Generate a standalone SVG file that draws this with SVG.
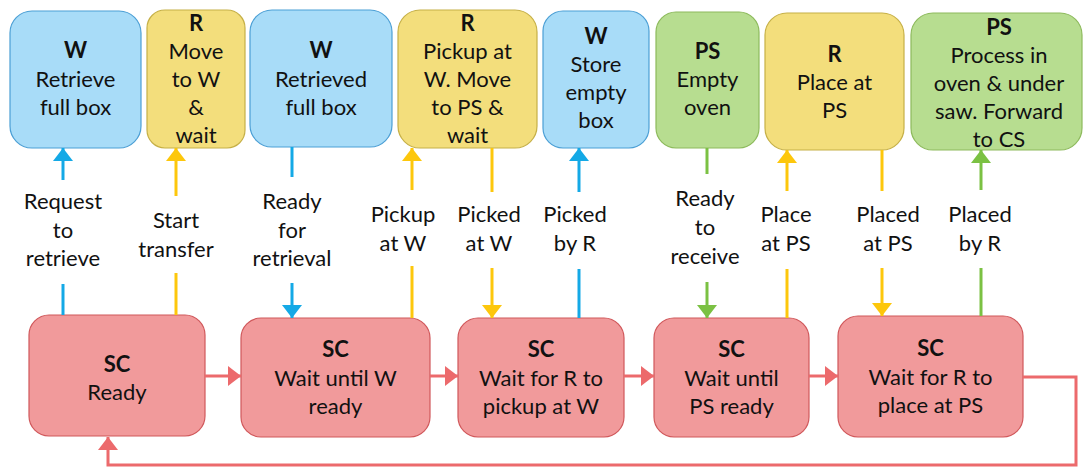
<svg xmlns="http://www.w3.org/2000/svg" width="1084" height="470" viewBox="0 0 1084 470">
  <style>
    text { font-family: Lato, "Liberation Sans", Arial, sans-serif; font-size: 22px; fill: #111; text-anchor: middle; }
    .b { font-weight: bold; }
    .w { fill: #a8dcf8; stroke: #4b9fd5; stroke-width: 1.2; }
    .r { fill: #f3de7c; stroke: #c6b047; stroke-width: 1.2; }
    .ps { fill: #b7dd90; stroke: #8dba5c; stroke-width: 1.2; }
    .sc { fill: #f19a9b; stroke: #d0585b; stroke-width: 1.2; }
    .cb { stroke: #14a9e6; stroke-width: 3; fill: none; }
    .cy { stroke: #fdc70c; stroke-width: 3; fill: none; }
    .cg { stroke: #7bc143; stroke-width: 3; fill: none; }
    .cr { stroke: #ec6a6c; stroke-width: 3; fill: none; }
  </style>
  <defs>
    <marker id="hb" markerUnits="userSpaceOnUse" markerWidth="14" markerHeight="20" refX="13" refY="10" orient="auto"><path d="M0,0 L13,10 L0,20 Z" fill="#14a9e6"/></marker>
    <marker id="hy" markerUnits="userSpaceOnUse" markerWidth="14" markerHeight="20" refX="13" refY="10" orient="auto"><path d="M0,0 L13,10 L0,20 Z" fill="#fdc70c"/></marker>
    <marker id="hg" markerUnits="userSpaceOnUse" markerWidth="14" markerHeight="20" refX="13" refY="10" orient="auto"><path d="M0,0 L13,10 L0,20 Z" fill="#7bc143"/></marker>
    <marker id="hr" markerUnits="userSpaceOnUse" markerWidth="14" markerHeight="20" refX="13" refY="10" orient="auto"><path d="M0,0 L13,10 L0,20 Z" fill="#ec6a6c"/></marker>
  </defs>

  <!-- top row: component actions -->
  <g id="w-retrieve">
    <rect class="w" x="10" y="11" width="131" height="137" rx="22"/>
    <text class="b" x="75.5" y="58">W</text>
    <text x="75.5" y="87">Retrieve</text>
    <text x="75.5" y="115">full box</text>
  </g>
  <g id="r-move">
    <rect class="r" x="147" y="10" width="98" height="138" rx="18"/>
    <text class="b" x="196" y="31">R</text>
    <text x="196" y="59">Move</text>
    <text x="196" y="87">to W</text>
    <text x="196" y="115">&amp;</text>
    <text x="196" y="143">wait</text>
  </g>
  <g id="w-retrieved">
    <rect class="w" x="250" y="10" width="142" height="137" rx="22"/>
    <text class="b" x="321" y="58">W</text>
    <text x="321" y="87">Retrieved</text>
    <text x="321" y="115">full box</text>
  </g>
  <g id="r-pickup">
    <rect class="r" x="398" y="10" width="139" height="138" rx="22"/>
    <text class="b" x="467.5" y="31">R</text>
    <text x="467.5" y="59">Pickup at</text>
    <text x="467.5" y="87">W. Move</text>
    <text x="467.5" y="115">to PS &amp;</text>
    <text x="467.5" y="143">wait</text>
  </g>
  <g id="w-store">
    <rect class="w" x="543" y="11" width="106" height="137" rx="20"/>
    <text class="b" x="596" y="44">W</text>
    <text x="596" y="72">Store</text>
    <text x="596" y="100">empty</text>
    <text x="596" y="128">box</text>
  </g>
  <g id="ps-empty">
    <rect class="ps" x="656" y="12" width="103" height="136" rx="20"/>
    <text class="b" x="707.5" y="59">PS</text>
    <text x="707.5" y="87">Empty</text>
    <text x="707.5" y="115">oven</text>
  </g>
  <g id="r-place">
    <rect class="r" x="765" y="13" width="139" height="137" rx="22"/>
    <text class="b" x="834.5" y="62">R</text>
    <text x="834.5" y="90">Place at</text>
    <text x="834.5" y="118">PS</text>
  </g>
  <g id="ps-process">
    <rect class="ps" x="911" y="13" width="171" height="137" rx="22"/>
    <text class="b" x="999" y="35">PS</text>
    <text x="999" y="63">Process in</text>
    <text x="999" y="91">oven &amp; under</text>
    <text x="999" y="119">saw. Forward</text>
    <text x="999" y="147">to CS</text>
  </g>

  <!-- bottom row: SC states -->
  <g id="sc-ready">
    <rect class="sc" x="29" y="315" width="176" height="121" rx="20"/>
    <text class="b" x="117" y="372">SC</text>
    <text x="117" y="400">Ready</text>
  </g>
  <g id="sc-wait-w">
    <rect class="sc" x="241" y="318" width="189" height="119" rx="20"/>
    <text class="b" x="335.5" y="357">SC</text>
    <text x="335.5" y="386">Wait until W</text>
    <text x="335.5" y="414">ready</text>
  </g>
  <g id="sc-wait-pickup">
    <rect class="sc" x="458" y="318" width="166" height="119" rx="20"/>
    <text class="b" x="541" y="357">SC</text>
    <text x="541" y="386">Wait for R to</text>
    <text x="541" y="414">pickup at W</text>
  </g>
  <g id="sc-wait-ps">
    <rect class="sc" x="654" y="318" width="155" height="119" rx="20"/>
    <text class="b" x="731.5" y="357">SC</text>
    <text x="731.5" y="386">Wait until</text>
    <text x="731.5" y="414">PS ready</text>
  </g>
  <g id="sc-wait-place">
    <rect class="sc" x="838" y="316" width="185" height="121" rx="20"/>
    <text class="b" x="930.5" y="356">SC</text>
    <text x="930.5" y="385">Wait for R to</text>
    <text x="930.5" y="413">place at PS</text>
  </g>

  <!-- connectors -->
  <g id="connectors">
    <!-- SC state sequence -->
    <line class="cr" x1="205" y1="376" x2="241" y2="376" marker-end="url(#hr)"/>
    <line class="cr" x1="430" y1="376" x2="458" y2="376" marker-end="url(#hr)"/>
    <line class="cr" x1="624" y1="376" x2="654" y2="376" marker-end="url(#hr)"/>
    <line class="cr" x1="809" y1="376" x2="838" y2="376" marker-end="url(#hr)"/>
    <polyline class="cr" points="1023,377 1076,377 1076,465 108,465 108,437" marker-end="url(#hr)"/>

    <!-- messages between SC and components -->
    <line class="cb" x1="63" y1="315" x2="63" y2="284"/>
    <line class="cb" x1="63" y1="180" x2="63" y2="148" marker-end="url(#hb)"/>
    <text x="63" y="209">Request</text>
    <text x="63" y="238">to</text>
    <text x="63" y="266">retrieve</text>

    <line class="cy" x1="176" y1="315" x2="176" y2="273"/>
    <line class="cy" x1="176" y1="196" x2="176" y2="148" marker-end="url(#hy)"/>
    <text x="176" y="228">Start</text>
    <text x="176" y="257">transfer</text>

    <line class="cb" x1="292" y1="147" x2="292" y2="177"/>
    <line class="cb" x1="292" y1="283" x2="292" y2="318" marker-end="url(#hb)"/>
    <text x="292" y="209">Ready</text>
    <text x="292" y="238">for</text>
    <text x="292" y="266">retrieval</text>

    <line class="cy" x1="412" y1="318" x2="412" y2="266"/>
    <line class="cy" x1="412" y1="190" x2="412" y2="148" marker-end="url(#hy)"/>
    <text x="403" y="222">Pickup</text>
    <text x="403" y="251">at W</text>

    <line class="cy" x1="492" y1="148" x2="492" y2="192"/>
    <line class="cy" x1="492" y1="268" x2="492" y2="318" marker-end="url(#hy)"/>
    <text x="489" y="222">Picked</text>
    <text x="489" y="251">at W</text>

    <line class="cb" x1="579" y1="318" x2="579" y2="269"/>
    <line class="cb" x1="579" y1="192" x2="579" y2="148" marker-end="url(#hb)"/>
    <text x="575" y="222">Picked</text>
    <text x="575" y="251">by R</text>

    <line class="cg" x1="707" y1="148" x2="707" y2="174"/>
    <line class="cg" x1="707" y1="282" x2="707" y2="318" marker-end="url(#hg)"/>
    <text x="705" y="206">Ready</text>
    <text x="705" y="235">to</text>
    <text x="705" y="264">receive</text>

    <line class="cy" x1="787" y1="318" x2="787" y2="269"/>
    <line class="cy" x1="787" y1="191" x2="787" y2="150" marker-end="url(#hy)"/>
    <text x="786" y="222">Place</text>
    <text x="786" y="251">at PS</text>

    <line class="cy" x1="882" y1="150" x2="882" y2="191"/>
    <line class="cy" x1="882" y1="268" x2="882" y2="316" marker-end="url(#hy)"/>
    <text x="888" y="222">Placed</text>
    <text x="888" y="251">at PS</text>

    <line class="cg" x1="981" y1="316" x2="981" y2="268"/>
    <line class="cg" x1="981" y1="190" x2="981" y2="150" marker-end="url(#hg)"/>
    <text x="980" y="222">Placed</text>
    <text x="980" y="251">by R</text>
  </g>
</svg>
